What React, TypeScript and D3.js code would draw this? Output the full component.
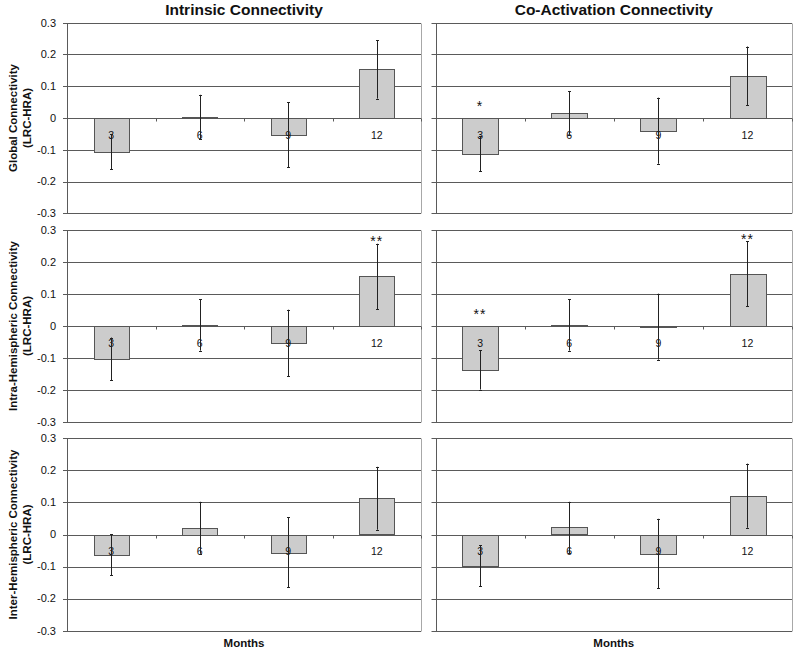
import React from "react";
import * as d3 from "d3";

const months = ["3", "6", "9", "12"];
const yTicks = [-0.3, -0.2, -0.1, 0, 0.1, 0.2, 0.3];
const yTickLabels = ["-0.3", "-0.2", "-0.1", "0", "0.1", "0.2", "0.3"];
const columnTitles = ["Intrinsic Connectivity", "Co-Activation Connectivity"];
const rowTitles = [
  ["Global Connectivity", "(LRC-HRA)"],
  ["Intra-Hemispheric Connectivity", "(LRC-HRA)"],
  ["Inter-Hemispheric Connectivity", "(LRC-HRA)"],
];
const xAxisTitle = "Months";

// Global connectivity
const globalIntrinsic = [-0.106, 0.003, -0.053, 0.153];
const globalIntrinsicErr = [0.055, 0.07, 0.102, 0.092];
const globalIntrinsicSig = ["", "", "", ""];
const globalCoact = [-0.112, 0.016, -0.04, 0.133];
const globalCoactErr = [0.055, 0.069, 0.104, 0.092];
const globalCoactSig = ["*", "", "", ""];

// Intra-hemispheric connectivity
const intraIntrinsic = [-0.103, 0.003, -0.053, 0.155];
const intraIntrinsicErr = [0.067, 0.08, 0.104, 0.102];
const intraIntrinsicSig = ["", "", "", "**"];
const intraCoact = [-0.1375, 0.003, -0.002, 0.163];
const intraCoactErr = [0.061, 0.08, 0.103, 0.102];
const intraCoactSig = ["**", "", "", "**"];

// Inter-hemispheric connectivity
const interIntrinsic = [-0.0625, 0.021, -0.055, 0.113];
const interIntrinsicErr = [0.064, 0.081, 0.109, 0.098];
const interIntrinsicSig = ["", "", "", ""];
const interCoact = [-0.097, 0.022, -0.059, 0.121];
const interCoactErr = [0.064, 0.08, 0.108, 0.1];
const interCoactSig = ["", "", "", ""];

const panelRows = [
  [
    { values: globalIntrinsic, errs: globalIntrinsicErr, sig: globalIntrinsicSig },
    { values: globalCoact, errs: globalCoactErr, sig: globalCoactSig },
  ],
  [
    { values: intraIntrinsic, errs: intraIntrinsicErr, sig: intraIntrinsicSig },
    { values: intraCoact, errs: intraCoactErr, sig: intraCoactSig },
  ],
  [
    { values: interIntrinsic, errs: interIntrinsicErr, sig: interIntrinsicSig },
    { values: interCoact, errs: interCoactErr, sig: interCoactSig },
  ],
];

const W = 797;
const H = 651;
const FONT = "Arial, 'Liberation Sans', Helvetica, sans-serif";
const colX: [number, number][] = [
  [67, 421],
  [435.5, 792],
];
const rowY: [number, number][] = [
  [22.7, 213.3],
  [230, 422],
  [438.3, 630.7],
];

const GRID = "#5a5a5a";
const px = (v: number) => Math.round(v) + 0.5;

function Panel({ data, col, row }: { data: any; col: number; row: number }) {
  const [x0, x1] = colX[col];
  const [y0, y1] = rowY[row];
  const x = d3
    .scaleBand<string>()
    .domain(months)
    .range([x0, x1])
    .paddingInner(0.6)
    .paddingOuter(0.3);
  const y = d3.scaleLinear().domain([-0.3, 0.3]).range([y1, y0]);
  const step = (x1 - x0) / months.length;
  const bw = x.bandwidth();
  const zeroY = px(y(0));

  return (
    <g>
      {yTicks.map((t) => (
        <line
          key={"g" + t}
          x1={x0 - 4}
          x2={x1}
          y1={px(y(t))}
          y2={px(y(t))}
          stroke={GRID}
          strokeWidth={1}
        />
      ))}
      <line x1={px(x0)} x2={px(x0)} y1={px(y0)} y2={px(y1)} stroke={GRID} strokeWidth={1} />
      <line x1={px(x1)} x2={px(x1)} y1={px(y0)} y2={px(y1)} stroke="#a8a8a8" strokeWidth={1} />
      {d3.range(months.length + 1).map((i) => (
        <line
          key={"ct" + i}
          x1={px(x0 + i * step)}
          x2={px(x0 + i * step)}
          y1={zeroY}
          y2={zeroY + 3}
          stroke={GRID}
          strokeWidth={1}
        />
      ))}
      {months.map((m, i) => {
        const v = data.values[i];
        const top = Math.min(y(v), y(0));
        const h = Math.max(Math.abs(y(v) - y(0)), 1);
        return (
          <rect
            key={"b" + m}
            x={px(x(m)!)}
            y={Math.round(top) + 0.5}
            width={Math.round(bw)}
            height={Math.round(h)}
            fill="#cccccc"
            stroke="#555555"
            strokeWidth={1}
          />
        );
      })}
      {months.map((m, i) => (
        <text
          key={"cl" + m}
          x={x(m)! + bw / 2}
          y={y(0) + 20.5}
          textAnchor="middle"
          fontFamily={FONT}
          fontSize={10.5}
          fill="#111"
        >
          {m}
        </text>
      ))}
      {months.map((m, i) => {
        const v = data.values[i];
        const e = data.errs[i];
        const cx = px(x(m)! + bw / 2);
        const ya = y(v + e);
        const yb = y(v - e);
        return (
          <g key={"e" + m} stroke="#222" strokeWidth={1}>
            <line x1={cx} x2={cx} y1={ya} y2={yb} />
            <line x1={cx - 1.5} x2={cx + 1.5} y1={px(ya)} y2={px(ya)} />
            <line x1={cx - 1.5} x2={cx + 1.5} y1={px(yb)} y2={px(yb)} />
          </g>
        );
      })}
      {months.map((m, i) => {
        const s = data.sig[i];
        if (!s) return null;
        const v = data.values[i];
        const e = data.errs[i];
        const cy = y(Math.max(v + e, 0)) - (v > 0 ? 5.5 : 15);
        return (
          <text
            key={"s" + m}
            x={x(m)! + bw / 2}
            y={cy + 8}
            textAnchor="middle"
            fontFamily={FONT}
            fontSize={14}
            letterSpacing={1}
            fill="#111"
          >
            {s}
          </text>
        );
      })}
      {col === 0 &&
        yTicks.map((t, i) => (
          <text
            key={"yl" + t}
            x={56}
            y={y(t)}
            dy="0.35em"
            textAnchor="end"
            fontFamily={FONT}
            fontSize={11}
            fill="#111"
          >
            {yTickLabels[i]}
          </text>
        ))}
    </g>
  );
}

export default function App() {
  return (
    <svg
      width={W}
      height={H}
      viewBox={`0 0 ${W} ${H}`}
      style={{ position: "absolute", left: 0, top: 0, background: "#fff" }}
    >
      <rect x={0} y={0} width={W} height={H} fill="#fff" />
      {columnTitles.map((t, c) => (
        <text
          key={t}
          x={(colX[c][0] + colX[c][1]) / 2}
          y={10}
          dy="0.35em"
          textAnchor="middle"
          fontFamily={FONT}
          fontSize={15.5}
          fontWeight="bold"
          fill="#111"
        >
          {t}
        </text>
      ))}
      {rowTitles.map((lines, r) => {
        const cy = (rowY[r][0] + rowY[r][1]) / 2;
        return (
          <g key={"rt" + r}>
            {lines.map((ln, k) => (
              <text
                key={ln}
                transform={`translate(${12.7 + k * 14},${cy}) rotate(-90)`}
                dy="0.35em"
                textAnchor="middle"
                fontFamily={FONT}
                fontSize={11.5}
                fontWeight="bold"
                fill="#111"
              >
                {ln}
              </text>
            ))}
          </g>
        );
      })}
      {panelRows.map((row, r) =>
        row.map((d, c) => <Panel key={r + "-" + c} data={d} col={c} row={r} />)
      )}
      {colX.map((cx, c) => (
        <text
          key={"mx" + c}
          x={(cx[0] + cx[1]) / 2}
          y={642.5}
          dy="0.35em"
          textAnchor="middle"
          fontFamily={FONT}
          fontSize={11.5}
          fontWeight="bold"
          fill="#111"
        >
          {xAxisTitle}
        </text>
      ))}
    </svg>
  );
}
